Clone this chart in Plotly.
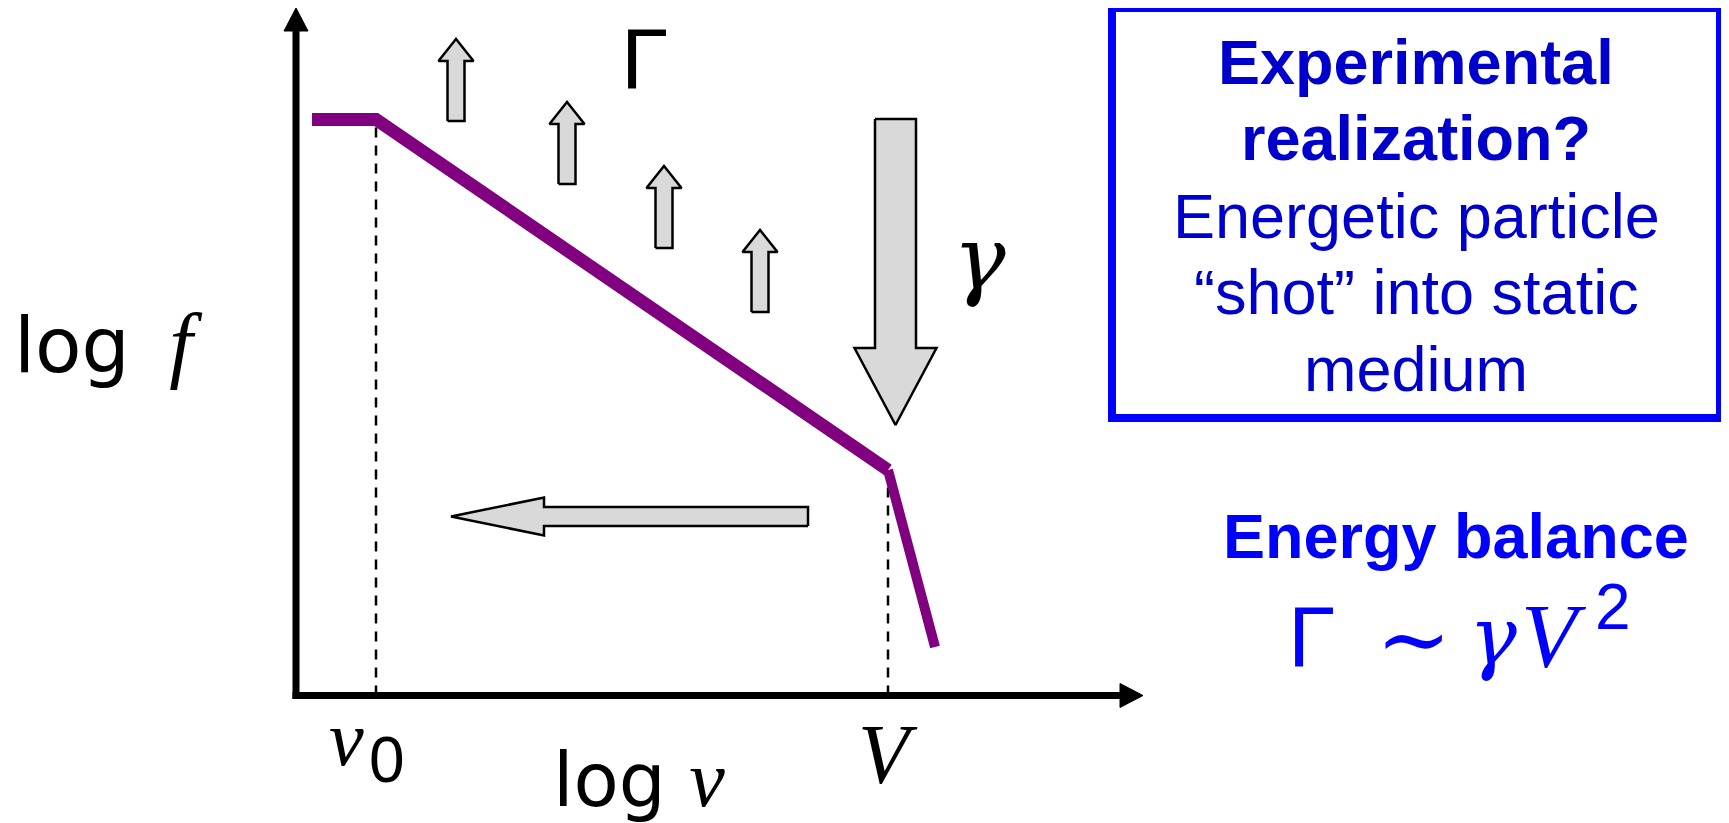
import plotly.graph_objects as go

# ---------------- data (schematic, diagram units: 1 unit = 100 px) ----------------
# main branch of the distribution: plateau then power-law decay
line_log_v = [0.16, 0.80, 5.92]
line_log_f = [5.76, 5.76, 2.255]
# steep cut-off beyond V
tail_log_v = [5.92, 6.39]
tail_log_f = [2.255, 0.485]

v0 = 0.80
V = 5.92

# small upward arrows (source Γ)
up_arrow_x = [1.60, 2.71, 3.68, 4.64]
up_arrow_base = [5.745, 5.115, 4.475, 3.835]
up_arrow_len = 0.82

# big downward arrow (loss γ)
down_arrow_x = 5.995
down_arrow_top = 5.765
down_arrow_tip = 2.705

# leftward arrow (slowing down)
left_arrow_y = 1.79
left_arrow_tail = 5.12
left_arrow_tip = 1.55

# axis extents
x_axis_end = 8.47
y_axis_end = 6.875

box_lines = ["Experimental", "realization?", "Energetic particle", "\u201cshot\u201d into static", "medium"]
box_bold = [True, True, False, False, False]
box_line_y = [6.335, 5.575, 4.795, 4.035, 3.265]

# page has an 8px body margin -> shift ranges to compensate
OFF = 0.08
XR = [-2.96 + OFF, 14.33 + OFF]
YR = [-1.275 - OFF, 6.955 - OFF]

fig = go.Figure()

GRAY = "#d9d9d9"


def poly_trace(xs, ys, fill, lw, lc="black"):
    return go.Scatter(x=xs + [xs[0]], y=ys + [ys[0]], mode="lines", fill="toself",
                      fillcolor=fill, line=dict(color=lc, width=lw), hoverinfo="skip",
                      showlegend=False)


# axes (thick black lines with arrowheads)
ah_len, ah_half = 0.23, 0.12
fig.add_trace(go.Scatter(x=[-0.035, x_axis_end - ah_len], y=[0, 0], mode="lines",
                         line=dict(color="black", width=7), showlegend=False, hoverinfo="skip"))
fig.add_trace(go.Scatter(x=[0, 0], y=[-0.035, y_axis_end - ah_len], mode="lines",
                         line=dict(color="black", width=7), showlegend=False, hoverinfo="skip"))
fig.add_trace(poly_trace([x_axis_end - ah_len, x_axis_end, x_axis_end - ah_len],
                         [ah_half, 0, -ah_half], "black", 1))
fig.add_trace(poly_trace([-ah_half, 0, ah_half],
                         [y_axis_end - ah_len, y_axis_end, y_axis_end - ah_len], "black", 1))

# dashed guides
for xv, yv in [(v0, line_log_f[1]), (V, line_log_f[2])]:
    fig.add_trace(go.Scatter(x=[xv, xv], y=[0, yv], mode="lines",
                             line=dict(color="black", width=2.5, dash="10px,8px"),
                             showlegend=False, hoverinfo="skip"))

# distribution curve
fig.add_trace(go.Scatter(x=line_log_v, y=line_log_f, mode="lines",
                         line=dict(color="#800080", width=13), showlegend=False, hoverinfo="skip"))
fig.add_trace(go.Scatter(x=tail_log_v, y=tail_log_f, mode="lines",
                         line=dict(color="#800080", width=10), showlegend=False, hoverinfo="skip"))

# up arrows
sw, hw, hl = 0.085, 0.175, 0.22
for cx, yb in zip(up_arrow_x, up_arrow_base):
    yt = yb + up_arrow_len
    xs = [cx - sw, cx - sw, cx - hw, cx, cx + hw, cx + sw, cx + sw]
    ys = [yb, yt - hl, yt - hl, yt, yt - hl, yt - hl, yb]
    fig.add_trace(poly_trace(xs, ys, GRAY, 2.5))

# big down arrow
sw, hw, hl = 0.205, 0.41, 0.77
cx = down_arrow_x
xs = [cx - sw, cx - sw, cx - hw, cx, cx + hw, cx + sw, cx + sw]
ys = [down_arrow_top, down_arrow_tip + hl, down_arrow_tip + hl, down_arrow_tip,
      down_arrow_tip + hl, down_arrow_tip + hl, down_arrow_top]
fig.add_trace(poly_trace(xs, ys, GRAY, 2.5))

# left arrow
sh, hh, hl = 0.095, 0.19, 0.93
cy = left_arrow_y
xs = [left_arrow_tail, left_arrow_tip + hl, left_arrow_tip + hl, left_arrow_tip,
      left_arrow_tip + hl, left_arrow_tip + hl, left_arrow_tail]
ys = [cy - sh, cy - sh, cy - hh, cy, cy + hh, cy + sh, cy + sh]
fig.add_trace(poly_trace(xs, ys, GRAY, 2.5))

# blue box
fig.add_shape(type="rect", x0=8.16, x1=14.24, y0=2.775, y1=6.875,
              line=dict(color="#0000FF", width=8), fillcolor="rgba(0,0,0,0)", layer="above")

SERIF = "Liberation Serif"
SANS = "Liberation Sans"
DSANS = "DejaVu Sans"
DSERIF = "DejaVu Serif"


def ann(x, y, text, size, color="black", family=SANS):
    fig.add_annotation(x=x, y=y, text=text, showarrow=False, xanchor="center", yanchor="middle",
                       font=dict(size=size, color=color, family=family))


for txt, b, yy in zip(box_lines, box_bold, box_line_y):
    ann(11.2, yy, f"<b>{txt}</b>" if b else txt, 63, "#0000CC")

ann(11.6, 1.595, "<b>Energy balance</b>", 63, "#0000FF")

# formula  Γ ~ γV^2
BLUE = "#0000FF"
ann(10.15, 0.595, "\u0393", 86, BLUE, SANS)
ann(11.17, 0.57, "\u223c", 90, BLUE, DSERIF)
ann(11.97, 0.595, "<i>\u03b3</i>", 80, BLUE, DSERIF)
ann(12.58, 0.595, "<i>V</i>", 92, BLUE, SERIF)
ann(13.17, 0.89, "2", 64, BLUE, SANS)

# axis labels
ann(-1.88, 3.52, f"log\u00a0\u2009<span style=\"font-family:{SERIF};font-size:84px\"><i>f</i></span>", 76, family=DSANS)
ann(3.43, -0.83, f"log <span style=\"font-family:{SERIF};font-size:80px\"><i>v</i></span>", 74, family=DSANS)
ann(0.50, -0.43, "<i>v</i>", 78, family=SERIF)
ann(0.91, -0.645, "0", 64, family=SANS)
ann(5.92, -0.585, "<i>V</i>", 84, family=SERIF)
ann(3.48, 6.38, "\u0393", 86, family=SANS)
ann(6.83, 4.37, "<i>\u03b3</i>", 88, family=DSERIF)

fig.update_layout(
    width=1729, height=823, margin=dict(l=0, r=0, t=0, b=0),
    paper_bgcolor="white", plot_bgcolor="white",
    xaxis=dict(range=XR, visible=False, fixedrange=True),
    yaxis=dict(range=YR, visible=False, fixedrange=True),
    showlegend=False,
)

fig.write_html("out.html")
